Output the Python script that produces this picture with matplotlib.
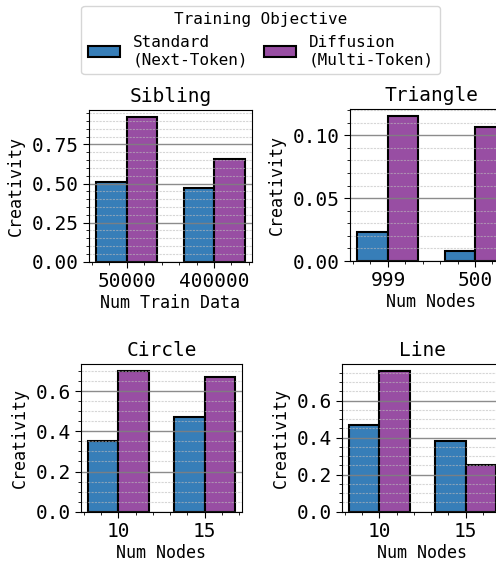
import numpy as np
import matplotlib
matplotlib.use("Agg")
import matplotlib.pyplot as plt
from matplotlib.patches import Patch
from matplotlib.ticker import AutoMinorLocator, MultipleLocator

plt.rcParams['font.family'] = ['DejaVu Sans Mono']

# creativity scores per task
sibling_labels = ["50000", "400000"]
sibling_standard = [0.511, 0.469]
sibling_diffusion = [0.923, 0.655]

triangle_labels = ["999", "500"]
triangle_standard = [0.0227, 0.0079]
triangle_diffusion = [0.1152, 0.1066]

circle_labels = ["10", "15"]
circle_standard = [0.35, 0.47]
circle_diffusion = [0.70, 0.67]

line_labels = ["10", "15"]
line_standard = [0.47, 0.38]
line_diffusion = [0.76, 0.25]

BLUE = "#377eb8"
PURPLE = "#984ea3"
W = 0.35


def bar_panel(ax, title, labels, standard, diffusion, xlabel, ystep):
    x = np.arange(len(labels))
    ax.bar(x - W / 2, standard, W, color=BLUE, edgecolor="black", linewidth=1.5)
    ax.bar(x + W / 2, diffusion, W, color=PURPLE, edgecolor="black", linewidth=1.5)
    ax.set_xticks(x)
    ax.set_xticklabels(labels)
    ax.yaxis.set_major_locator(MultipleLocator(ystep))
    ax.xaxis.set_minor_locator(AutoMinorLocator())
    ax.yaxis.set_minor_locator(AutoMinorLocator())
    ax.grid(axis="y", which="major", color="gray", linewidth=1.0, alpha=0.9)
    ax.grid(axis="y", which="minor", color="#bbbbbb", linestyle=(0, (2, 1)),
            linewidth=0.8, alpha=0.6)
    ax.tick_params(axis="both", which="major", labelsize=14, length=4)
    ax.tick_params(axis="both", which="minor", length=2.5)
    ax.set_title(title, fontsize=14)
    ax.set_xlabel(xlabel, fontsize=12, labelpad=2)
    ax.set_ylabel("Creativity", fontsize=12, labelpad=5)


fig = plt.figure(figsize=(4.96, 5.63), dpi=100)

ax1 = fig.add_axes([0.1794, 0.535, 0.3286, 0.2694])
bar_panel(ax1, "Sibling", sibling_labels, sibling_standard, sibling_diffusion, "Num Train Data", 0.25)

ax2 = fig.add_axes([0.7056, 0.5364, 0.3286, 0.27])
bar_panel(ax2, "Triangle", triangle_labels, triangle_standard, triangle_diffusion, "Num Nodes", 0.05)

ax3 = fig.add_axes([0.1633, 0.0911, 0.3246, 0.2623])
bar_panel(ax3, "Circle", circle_labels, circle_standard, circle_diffusion, "Num Nodes", 0.2)

ax4 = fig.add_axes([0.6895, 0.0911, 0.3246, 0.2623])
bar_panel(ax4, "Line", line_labels, line_standard, line_diffusion, "Num Nodes", 0.2)

handles = [Patch(facecolor=BLUE, edgecolor="black", linewidth=1.5),
           Patch(facecolor=PURPLE, edgecolor="black", linewidth=1.5)]
fig.legend(handles, ["Standard\n(Next-Token)", "Diffusion\n(Multi-Token)"],
           title="Training Objective", ncol=2, fontsize=11.5, title_fontsize=11.5,
           columnspacing=1.0, loc="upper center", borderaxespad=0.35,
           bbox_to_anchor=(0.526, 1.0))

fig.savefig("out.png", dpi=100)
